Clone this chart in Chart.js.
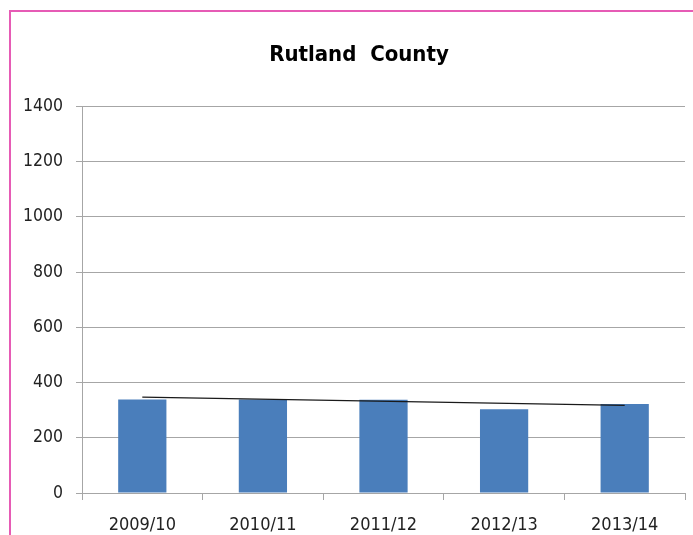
<!DOCTYPE html>
<html>
<head>
<meta charset="utf-8">
<script src="https://cdn.jsdelivr.net/npm/chart.js@4"></script>
<style>
  html, body { margin: 0; padding: 0; background: #fff; overflow: hidden; width: 693px; height: 535px; }
  #frame { position: absolute; left: 9px; top: 10px; width: 800px; height: 600px;
           border-top: 2px solid #E65BB5; border-left: 2px solid #E65BB5; }
  #wrap { position: absolute; left: 11px; top: 12px; width: 696px; height: 523px; }
</style>
</head>
<body>
<div id="frame"></div>
<div id="wrap"><canvas id="rutland" width="696" height="523"></canvas></div>
<script>
// categorieën en waarden
const seizoenen = ["2009/10", "2010/11", "2011/12", "2012/13", "2013/14"];
const aantallen = [339, 339, 338, 303, 322];
const trend = [347, null, null, null, 317];
const yTicks = [0, 200, 400, 600, 800, 1000, 1200, 1400];

const lettertype = "'Liberation Sans Narrow', 'DejaVu Sans Condensed', Arial, sans-serif";
const grijs = "#A6A6A6";

// titel iets naar rechts schuiven (in het origineel staat hij niet midden op het canvas)
const titelVerschuiving = {
    id: 'titelVerschuiving',
    afterLayout(chart) {
        if (chart.titleBlock) chart.titleBlock.left += 22;
    }
};

const ctx = document.getElementById("rutland");
new Chart(ctx.getContext("2d"), {
    data: {
        labels: seizoenen,
        datasets: [
            {
                type: 'line',
                data: trend,
                spanGaps: true,
                borderColor: '#1a1a1a',
                borderWidth: 1.3,
                pointRadius: 0,
                order: 0
            },
            {
                type: 'bar',
                data: aantallen,
                backgroundColor: '#4A7EBB',
                categoryPercentage: 1,
                barPercentage: 0.4,
                order: 1
            }
        ]
    },
    plugins: [titelVerschuiving],
    options: {
        responsive: false,
        animation: false,
        layout: { padding: { left: 0, right: 22, top: 0, bottom: 0 } },
        plugins: {
            legend: { display: false },
            tooltip: { enabled: false },
            title: {
                display: true,
                text: 'Rutland  County',
                color: '#000',
                font: { family: lettertype, size: 22, weight: 'bold', lineHeight: 1.2 },
                padding: { top: 30, bottom: 38 }
            }
        },
        scales: {
            x: {
                grid: { display: true, drawOnChartArea: false, offset: true, tickLength: 7, color: grijs },
                border: { display: true, color: grijs },
                ticks: { color: '#222', font: { family: lettertype, size: 18 }, padding: 15, maxRotation: 0 },
                afterFit: function(scale) { scale.height = 42; }
            },
            y: {
                min: 0,
                max: 1400,
                afterBuildTicks: function(scale) { scale.ticks = yTicks.map(v => ({ value: v })); },
                grid: { color: grijs, tickLength: 6 },
                border: { display: true, color: grijs },
                ticks: {
                    color: '#222',
                    font: { family: lettertype, size: 17.5 },
                    padding: 13,
                    callback: function(waarde) { return String(waarde); }
                },
                afterFit: function(scale) { scale.width = 71; }
            }
        }
    }
});
</script>
</body>
</html>
